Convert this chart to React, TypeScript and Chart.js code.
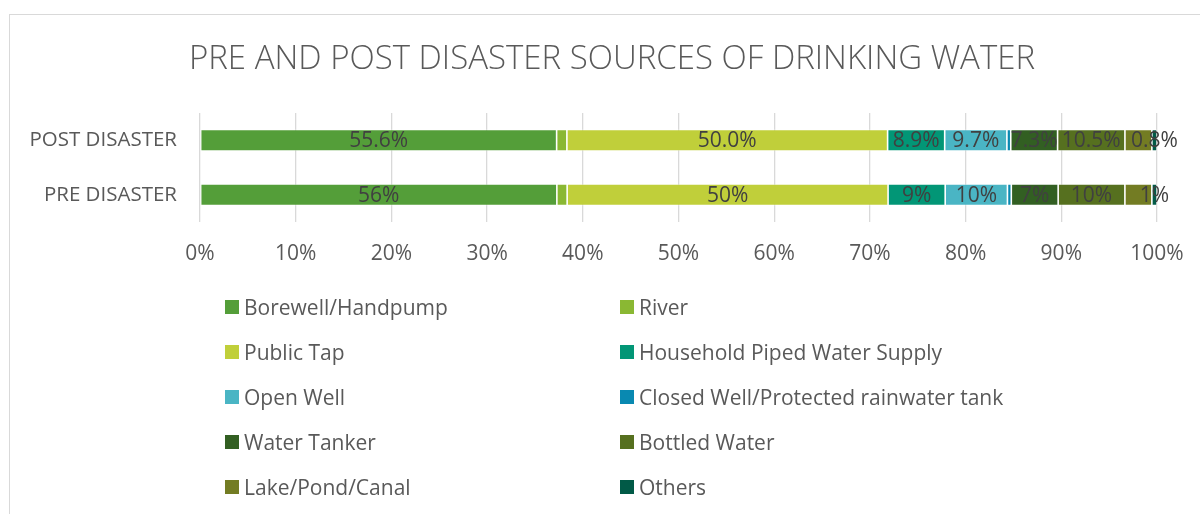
import React, { useEffect, useRef } from "react";
import { Chart, registerables } from "chart.js";

Chart.register(...registerables);

const chartTitle = "PRE AND POST DISASTER SOURCES OF DRINKING WATER";
const categories = ["POST DISASTER", "PRE DISASTER"];
const sources = [
  "Borewell/Handpump",
  "River",
  "Public Tap",
  "Household Piped Water Supply",
  "Open Well",
  "Closed Well/Protected rainwater tank",
  "Water Tanker",
  "Bottled Water",
  "Lake/Pond/Canal",
  "Others",
];
const postValues = [55.6, 1.6, 50.0, 8.9, 9.7, 0.6, 7.3, 10.5, 4.2, 0.8];
const preValues = [55.6, 1.6, 50.0, 8.9, 9.7, 0.6, 7.3, 10.4, 4.2, 0.8];
const postLabels = ["55.6%", "", "50.0%", "8.9%", "9.7%", "", "7.3%", "10.5%", "", "0.8%"];
const preLabels = ["56%", "", "50%", "9%", "10%", "", "7%", "10%", "", "1%"];
const colors = [
  "#549E39",
  "#8AB833",
  "#C0CF3A",
  "#029676",
  "#4AB5C4",
  "#0989B1",
  "#325F22",
  "#56701F",
  "#737C23",
  "#015A47",
];
const xTicks = [0, 10, 20, 30, 40, 50, 60, 70, 80, 90, 100];

const FONT = "'Open Sans', 'DejaVu Sans', sans-serif";

export default function App() {
  const ref = useRef<HTMLCanvasElement | null>(null);

  useEffect(() => {
    if (!ref.current) return;
    const totals = [
      postValues.reduce((a, b) => a + b, 0),
      preValues.reduce((a, b) => a + b, 0),
    ];
    const labelsByCat = [postLabels, preLabels];
    const datasets = sources.map((s, i) => ({
      label: s,
      data: [(postValues[i] / totals[0]) * 100, (preValues[i] / totals[1]) * 100],
      backgroundColor: colors[i],
      borderColor: "rgba(255,255,255,0.4)",
      borderWidth: 0.8,
      borderSkipped: false as const,
      barPercentage: 0.4,
      categoryPercentage: 1,
    }));

    const dataLabels = {
      id: "dataLabels",
      afterDatasetsDraw(chart: any) {
        const ctx = chart.ctx;
        ctx.save();
        ctx.font = `21px ${FONT}`;
        ctx.fillStyle = "#404040";
        ctx.textAlign = "center";
        ctx.textBaseline = "middle";
        chart.data.datasets.forEach((ds: any, i: number) => {
          const meta = chart.getDatasetMeta(i);
          meta.data.forEach((el: any, j: number) => {
            const txt = labelsByCat[j][i];
            if (!txt) return;
            ctx.fillText(txt, (el.x + el.base) / 2, el.y + 1);
          });
        });
        ctx.restore();
      },
    };

    const titlePlugin = {
      id: "frameTitle",
      afterDraw(chart: any) {
        const ctx = chart.ctx;
        ctx.save();
        ctx.font = `300 33px ${FONT}`;
        ctx.fillStyle = "#595959";
        ctx.textAlign = "center";
        ctx.textBaseline = "middle";
        ctx.fillText(chartTitle, 612, 60);
        ctx.restore();
      },
    };

    const chart = new Chart(ref.current, {
      type: "bar",
      data: { labels: categories, datasets },
      options: {
        indexAxis: "y",
        responsive: false,
        animation: false,
        devicePixelRatio: 1,
        layout: { padding: { left: 0, right: 67, top: 113, bottom: 242 } },
        plugins: {
          legend: { display: false },
          tooltip: { enabled: false },
          title: { display: false },
        },
        scales: {
          x: {
            stacked: true,
            min: 0,
            max: 100,
            afterBuildTicks: (scale: any) => {
              scale.ticks = xTicks.map((v) => ({ value: v }));
            },
            afterFit: (scale: any) => {
              scale.height = 50;
            },
            ticks: {
              callback: (v: any) => `${v}%`,
              color: "#595959",
              font: { family: FONT, size: 21 },
              padding: 19,
              maxRotation: 0,
            },
            grid: { color: "#D9D9D9", lineWidth: 1.3, drawTicks: false },
            border: { display: false },
          },
          y: {
            stacked: true,
            afterFit: (scale: any) => {
              scale.width = 200;
            },
            ticks: {
              color: "#595959",
              font: { family: FONT, size: 20.5 },
              padding: 23,
            },
            grid: { display: false, drawTicks: false },
            border: { display: false },
          },
        },
      },
      plugins: [dataLabels, titlePlugin],
    });
    return () => chart.destroy();
  }, []);

  const legendRows: number[] = [0, 1, 2, 3, 4];

  return (
    <div
      style={{
        position: "fixed",
        left: 0,
        top: 0,
        width: 1200,
        height: 514,
        overflow: "hidden",
        background: "#ffffff",
      }}
    >
      <div
        style={{
          position: "absolute",
          left: 9,
          top: 14,
          width: 1300,
          height: 700,
          borderTop: "1px solid #D9D9D9",
          borderLeft: "1px solid #D9D9D9",
        }}
      />
      <canvas
        ref={ref}
        width={1224}
        height={514}
        style={{ position: "absolute", left: 0, top: 0, width: 1224, height: 514 }}
      />
      {sources.map((s, i) => {
        const col = i % 2;
        const row = Math.floor(i / 2);
        const left = col === 0 ? 225 : 620;
        const cy = 307 + legendRows[row] * 45;
        return (
          <div
            key={s}
            style={{
              position: "absolute",
              left,
              top: cy - 15,
              height: 30,
              display: "flex",
              alignItems: "center",
              fontFamily: FONT,
              fontSize: 21,
              color: "#595959",
              whiteSpace: "nowrap",
            }}
          >
            <span
              style={{
                display: "inline-block",
                width: 14,
                height: 14,
                background: colors[i],
                marginRight: 5,
              }}
            />
            <span>{s}</span>
          </div>
        );
      })}
    </div>
  );
}
